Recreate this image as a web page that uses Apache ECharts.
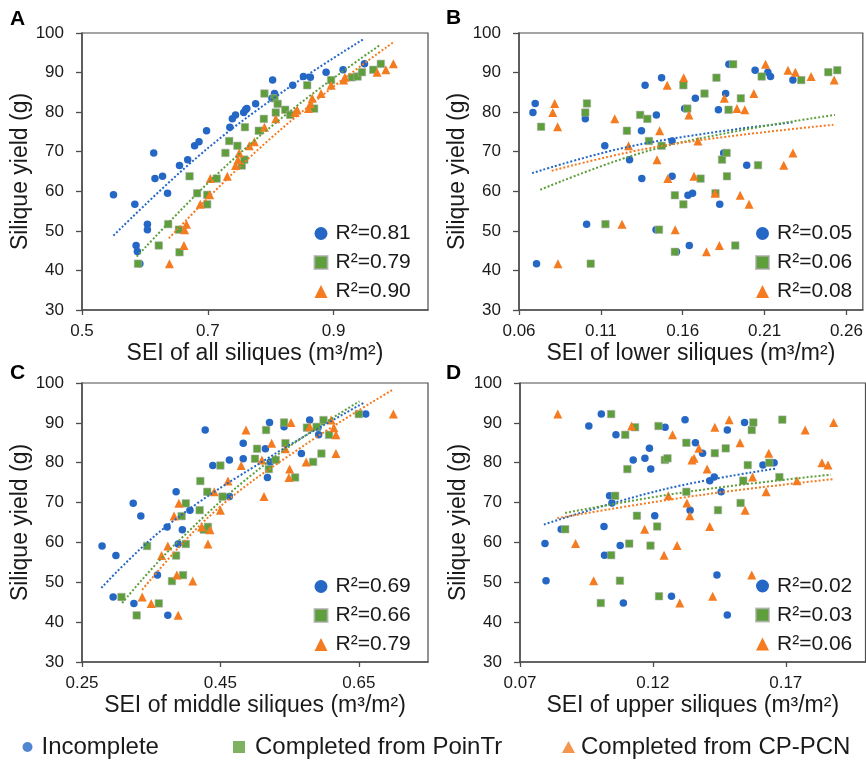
<!DOCTYPE html>
<html>
<head>
<meta charset="utf-8">
<title>SEI vs silique yield</title>
<script src="https://cdn.jsdelivr.net/npm/echarts@6.0.0/dist/echarts.min.js"></script>
<style>
  html, body { margin: 0; padding: 0; background: #fff; }
  #chart { width: 866px; height: 760px; }
</style>
</head>
<body>
<div id="chart"></div>
<script>
// ---- data: [SEI, silique yield] ----
// A: all siliques
const aIncomplete = [[0.550,59.1],[0.584,56.7],[0.586,46.3],[0.588,44.8],[0.592,41.7],[0.604,51.7],[0.604,50.3],[0.614,69.7],[0.616,63.2],[0.628,63.8],[0.636,59.5],[0.655,66.5],[0.668,68.0],[0.679,71.5],[0.686,72.5],[0.698,75.3],[0.735,76.2],[0.739,78.3],[0.744,79.3],[0.757,79.9],[0.760,80.6],[0.762,80.9],[0.776,82.1],[0.803,88.1],[0.802,83.5],[0.806,84.7],[0.835,86.8],[0.852,89.0],[0.863,88.8],[0.888,90.1],[0.915,90.7],[0.949,92.2]]
const aPoinTr = [[0.589,41.7],[0.622,46.3],[0.637,51.7],[0.655,44.6],[0.654,50.3],[0.671,63.8],[0.683,59.5],[0.699,59.1],[0.699,56.7],[0.714,63.2],[0.728,69.7],[0.734,72.7],[0.747,71.5],[0.754,66.5],[0.758,68.0],[0.759,76.2],[0.781,75.3],[0.789,78.3],[0.790,84.7],[0.806,83.5],[0.808,79.9],[0.811,82.1],[0.823,80.6],[0.831,79.3],[0.858,86.8],[0.869,80.9],[0.896,88.1],[0.929,88.8],[0.938,89.0],[0.945,90.1],[0.963,90.7],[0.975,92.2]]
const aCpPcn = [[0.639,41.7],[0.662,46.3],[0.663,50.3],[0.666,51.7],[0.688,56.7],[0.703,59.1],[0.704,63.2],[0.731,63.8],[0.744,66.5],[0.748,68.0],[0.750,69.7],[0.766,71.5],[0.774,72.5],[0.790,76.2],[0.808,78.3],[0.839,79.9],[0.842,80.6],[0.860,80.9],[0.863,82.1],[0.866,83.5],[0.880,84.7],[0.896,86.8],[0.916,88.1],[0.918,88.8],[0.969,90.1],[0.983,90.7],[0.995,92.2]]
const aTrendIncomplete = [[0.550,48.8],[0.683,68.6],[0.816,84.8],[0.948,98.5]]
const aTrendPoinTr = [[0.587,43.5],[0.716,64.5],[0.845,82.0],[0.974,97.0]]
const aTrendCpPcn = [[0.638,48.1],[0.758,67.3],[0.877,83.6],[0.997,97.9]]

// B: lower siliques
const bIncomplete = [[0.0685,79.9],[0.0699,82.2],[0.0707,41.7],[0.1005,78.3],[0.1013,51.7],[0.1124,71.5],[0.1275,68.0],[0.1348,75.3],[0.1350,63.2],[0.1370,86.8],[0.1439,79.3],[0.1437,50.3],[0.1471,88.7],[0.1535,72.7],[0.1535,63.8],[0.1562,44.7],[0.1612,80.9],[0.1632,59.0],[0.1660,59.5],[0.1640,46.3],[0.1677,83.5],[0.1818,80.6],[0.1826,56.7],[0.1850,69.7],[0.1862,84.7],[0.1882,92.1],[0.1991,66.6],[0.2042,90.6],[0.2120,90.1],[0.2136,89.0],[0.2273,88.1]]
const bPoinTr = [[0.0735,76.3],[0.1005,79.9],[0.1015,82.2],[0.1038,41.7],[0.1128,51.7],[0.1259,75.3],[0.1340,79.3],[0.1384,78.3],[0.1394,72.7],[0.1455,50.3],[0.1471,71.5],[0.1552,44.7],[0.1552,59.0],[0.1604,56.7],[0.1604,86.8],[0.1628,80.9],[0.1709,63.2],[0.1733,84.7],[0.1800,59.5],[0.1806,88.7],[0.1840,68.0],[0.1868,69.7],[0.1870,63.8],[0.1880,80.6],[0.1908,92.1],[0.1921,46.3],[0.1955,83.5],[0.2060,66.6],[0.2082,89.0],[0.2324,88.1],[0.2489,90.1],[0.2544,90.6]]
const bCpPcn = [[0.0806,79.9],[0.0818,82.2],[0.0836,76.3],[0.0838,41.7],[0.1185,78.3],[0.1229,51.7],[0.1269,71.5],[0.1443,68.0],[0.1459,75.3],[0.1505,86.8],[0.1509,63.2],[0.1554,50.3],[0.1606,88.7],[0.1638,79.3],[0.1669,63.8],[0.1693,72.7],[0.1745,44.7],[0.1798,59.5],[0.1824,46.3],[0.1854,83.5],[0.1931,80.9],[0.1951,59.0],[0.1979,80.6],[0.2005,56.7],[0.2034,84.7],[0.2106,92.1],[0.2217,66.6],[0.2243,90.6],[0.2273,69.7],[0.2288,90.1],[0.2384,89.0],[0.2525,88.1]]
const bTrendIncomplete = [[0.068,64.6],[0.121,70.7],[0.174,74.6],[0.227,77.4]]
const bTrendPoinTr = [[0.073,60.4],[0.133,69.5],[0.193,75.2],[0.253,79.3]]
const bTrendCpPcn = [[0.080,65.2],[0.137,70.7],[0.195,74.2],[0.252,76.8]]

// C: middle siliques
const cIncomplete = [[0.279,59.1],[0.299,56.7],[0.295,46.3],[0.324,69.8],[0.335,66.6],[0.325,44.7],[0.359,51.8],[0.373,63.9],[0.374,41.7],[0.386,72.7],[0.389,59.6],[0.395,63.2],[0.406,68.1],[0.428,88.2],[0.439,79.3],[0.463,71.5],[0.463,80.7],[0.483,84.9],[0.483,81.0],[0.515,83.5],[0.518,76.3],[0.521,90.1],[0.522,80.2],[0.542,89.0],[0.567,82.3],[0.579,90.7],[0.591,88.8],[0.592,87.0],[0.660,92.2]]
const cPoinTr = [[0.307,46.3],[0.329,41.7],[0.344,59.1],[0.361,44.7],[0.380,50.3],[0.386,56.7],[0.394,66.6],[0.396,51.8],[0.400,69.8],[0.400,59.6],[0.420,68.1],[0.421,75.4],[0.426,63.2],[0.432,63.9],[0.431,72.7],[0.450,79.3],[0.453,71.5],[0.500,81.0],[0.503,83.5],[0.516,88.2],[0.520,78.4],[0.530,80.7],[0.542,90.1],[0.544,84.9],[0.558,76.3],[0.575,88.8],[0.584,80.2],[0.589,89.0],[0.596,82.3],[0.599,90.7],[0.607,87.0],[0.650,92.2]]
const cCpPcn = [[0.337,46.3],[0.350,44.7],[0.365,56.7],[0.374,59.1],[0.383,66.6],[0.387,51.8],[0.389,41.7],[0.390,69.8],[0.410,50.3],[0.423,63.9],[0.432,59.6],[0.435,63.2],[0.441,72.7],[0.450,68.1],[0.461,75.4],[0.480,79.3],[0.487,88.2],[0.510,80.7],[0.513,71.5],[0.524,84.9],[0.544,83.5],[0.549,76.3],[0.550,78.4],[0.552,90.1],[0.574,80.2],[0.579,89.0],[0.610,90.7],[0.614,88.8],[0.617,87.0],[0.617,82.3],[0.700,92.2]]
const cTrendIncomplete = [[0.278,48.6],[0.373,64.2],[0.522,81.5],[0.659,95.2]]
const cTrendPoinTr = [[0.308,44.8],[0.385,59.6],[0.519,80.2],[0.651,95.4]]
const cTrendCpPcn = [[0.337,48.1],[0.438,67.2],[0.568,84.0],[0.699,98.3]]

// D: upper siliques
const dIncomplete = [[0.0794,59.7],[0.0798,50.4],[0.0855,63.3],[0.0959,89.2],[0.1006,92.2],[0.1016,64.0],[0.1018,56.8],[0.1037,71.7],[0.1046,69.9],[0.1061,87.0],[0.1077,59.2],[0.1089,44.8],[0.1126,80.7],[0.1170,81.1],[0.1187,83.6],[0.1192,78.4],[0.1207,66.7],[0.1246,88.9],[0.1270,46.5],[0.1321,90.8],[0.1340,68.1],[0.1360,85.0],[0.1387,82.4],[0.1414,75.5],[0.1431,76.4],[0.1441,51.8],[0.1457,72.7],[0.1480,88.2],[0.1480,41.8],[0.1545,90.1],[0.1614,79.4],[0.1656,80.0]]
const dPoinTr = [[0.0870,63.3],[0.1004,44.8],[0.1043,92.2],[0.1043,56.8],[0.1058,71.7],[0.1076,50.4],[0.1096,87.0],[0.1104,78.4],[0.1111,59.7],[0.1133,88.9],[0.1140,66.7],[0.1191,59.2],[0.1216,64.0],[0.1221,89.2],[0.1223,46.5],[0.1245,80.7],[0.1255,81.1],[0.1326,85.0],[0.1326,72.7],[0.1433,82.4],[0.1445,68.1],[0.1474,83.6],[0.1530,69.9],[0.1540,75.5],[0.1557,79.4],[0.1572,88.2],[0.1578,90.1],[0.1638,80.0],[0.1676,76.4],[0.1687,90.8]]
const dCpPcn = [[0.0842,92.2],[0.0909,59.7],[0.0977,50.4],[0.1120,89.2],[0.1169,63.3],[0.1242,56.8],[0.1258,71.7],[0.1274,87.0],[0.1291,59.2],[0.1301,44.8],[0.1328,69.9],[0.1339,66.7],[0.1347,80.7],[0.1355,81.1],[0.1373,83.6],[0.1404,78.4],[0.1414,64.0],[0.1425,46.5],[0.1433,88.9],[0.1487,90.8],[0.1528,85.0],[0.1547,68.1],[0.1572,51.8],[0.1575,76.4],[0.1626,72.7],[0.1636,82.4],[0.1742,75.5],[0.1773,88.2],[0.1836,80.0],[0.1859,79.4],[0.1880,90.1]]
const dTrendIncomplete = [[0.079,64.5],[0.124,73.3],[0.166,78.5]]
const dTrendPoinTr = [[0.087,67.4],[0.133,72.7],[0.187,77.0]]
const dTrendCpPcn = [[0.084,66.1],[0.137,71.8],[0.188,75.9]]

const r2A = ['R²=0.81', 'R²=0.79', 'R²=0.90']
const r2B = ['R²=0.05', 'R²=0.06', 'R²=0.08']
const r2C = ['R²=0.69', 'R²=0.66', 'R²=0.79']
const r2D = ['R²=0.02', 'R²=0.03', 'R²=0.06']

const xTicksA = [0.5, 0.7, 0.9]
const xTicksB = [0.06, 0.11, 0.16, 0.21, 0.26]
const xTicksC = [0.25, 0.45, 0.65]
const xTicksD = [0.07, 0.12, 0.17]

const groupNames = ['Incomplete', 'Completed from PoinTr', 'Completed from CP-PCN']

// ---- layout / style ----
const FONT = 'Liberation Sans, Arial, sans-serif'
const TEXT = '#1a1a1a'
const AXIS = '#4d4d4d'
const colors = ['#2467C5', '#5E9E3B', '#F47B20']
const symbols = ['circle', 'rect', 'triangle']
const symbolSizes = [7.5, 7.5, 9]

const panels = [
  { key: 'A', grid: { left: 82, top: 33, width: 346, height: 277 }, x: [0.5, 1.05], ticks: xTicksA, xName: 'SEI of all siliques (m³/m²)', r2: r2A, sets: [aIncomplete, aPoinTr, aCpPcn], trends: [aTrendIncomplete, aTrendPoinTr, aTrendCpPcn], legend: { left: 313.5, top: 223 }, letter: { left: 10, top: 9 } },
  { key: 'B', grid: { left: 519, top: 33, width: 346.5, height: 277 }, x: [0.06, 0.27], ticks: xTicksB, xName: 'SEI of lower siliques (m³/m²)', r2: r2B, sets: [bIncomplete, bPoinTr, bCpPcn], trends: [bTrendIncomplete, bTrendPoinTr, bTrendCpPcn], legend: { left: 755, top: 223 }, letter: { left: 446, top: 8 } },
  { key: 'C', grid: { left: 82, top: 383, width: 346, height: 279 }, x: [0.25, 0.75], ticks: xTicksC, xName: 'SEI of middle siliques (m³/m²)', r2: r2C, sets: [cIncomplete, cPoinTr, cCpPcn], trends: [cTrendIncomplete, cTrendPoinTr, cTrendCpPcn], legend: { left: 313.5, top: 576 }, letter: { left: 10, top: 363 } },
  { key: 'D', grid: { left: 520, top: 383, width: 345.5, height: 279 }, x: [0.07, 0.20], ticks: xTicksD, xName: 'SEI of upper siliques (m³/m²)', r2: r2D, sets: [dIncomplete, dPoinTr, dCpPcn], trends: [dTrendIncomplete, dTrendPoinTr, dTrendCpPcn], legend: { left: 755, top: 575.5 }, letter: { left: 446, top: 363 } }
]

const r2Label = {}
panels.forEach(p => p.r2.forEach((t, i) => { r2Label[p.key + i] = t }))

const grid = []
const xAxis = []
const yAxis = []
const series = []
const legend = []
const graphic = []

panels.forEach((p, pi) => {
  grid.push(Object.assign({ show: true, borderColor: AXIS, borderWidth: 1.2, backgroundColor: 'transparent' }, p.grid))
  xAxis.push({
    type: 'value',
    gridIndex: pi,
    min: p.x[0],
    max: p.x[1],
    splitLine: { show: false },
    axisLine: { show: true, onZero: false, lineStyle: { color: AXIS, width: 1.5 } },
    axisTick: { show: true, length: 5, customValues: p.ticks, lineStyle: { color: AXIS, width: 1.3 } },
    axisLabel: { customValues: p.ticks, fontSize: 17, fontFamily: FONT, color: TEXT, margin: 13 },
    name: p.xName,
    nameLocation: 'middle',
    nameGap: 32,
    nameTextStyle: { fontSize: 23, fontFamily: FONT, color: TEXT }
  })
  yAxis.push({
    type: 'value',
    gridIndex: pi,
    min: 30,
    max: 100,
    interval: 10,
    splitLine: { show: false },
    axisLine: { show: true, onZero: false, lineStyle: { color: AXIS, width: 1.5 } },
    axisTick: { show: true, length: 6, lineStyle: { color: AXIS, width: 1.3 } },
    axisLabel: { fontSize: 17, fontFamily: FONT, color: TEXT, margin: 18 },
    name: 'Silique yield (g)',
    nameLocation: 'middle',
    nameGap: 44,
    nameTextStyle: { fontSize: 23, fontFamily: FONT, color: TEXT }
  })
  p.sets.forEach((d, i) => {
    series.push({
      name: p.key + i,
      type: 'scatter',
      xAxisIndex: pi,
      yAxisIndex: pi,
      symbol: symbols[i],
      symbolSize: symbolSizes[i],
      z: 2 + i,
      itemStyle: i === 1
        ? { color: colors[i], opacity: 1, borderColor: 'rgba(170,170,170,0.7)', borderWidth: 0.8 }
        : { color: colors[i], opacity: 1 },
      data: d
    })
  })
  p.trends.forEach((d, i) => {
    series.push({
      type: 'line',
      xAxisIndex: pi,
      yAxisIndex: pi,
      smooth: 0.4,
      showSymbol: false,
      silent: true,
      z: 6,
      lineStyle: { color: colors[i], width: 2, type: [2, 2] },
      data: d
    })
  })
  legend.push({
    orient: 'vertical',
    left: p.legend.left,
    top: p.legend.top,
    padding: 0,
    itemGap: 8,
    itemWidth: 13,
    itemHeight: 13,
    selectedMode: false,
    formatter: n => r2Label[n],
    textStyle: { fontSize: 21, fontFamily: FONT, color: TEXT, padding: [0, 0, 0, 3] },
    data: [0, 1, 2].map(i => ({ name: p.key + i, icon: symbols[i] }))
  })
  graphic.push({
    type: 'text',
    left: p.letter.left,
    top: p.letter.top,
    style: { text: p.key, font: 'bold 21px ' + FONT, fill: '#000' }
  })
})

// bottom legend (one per group, placed individually)
const bottomLegend = [
  { left: 22.5, size: [10, 10], pad: 4 },
  { left: 233, size: [12, 12], pad: 5 },
  { left: 562, size: [13, 12], pad: 1 }
]
groupNames.forEach((g, i) => {
  series.push({
    name: g,
    type: 'scatter',
    xAxisIndex: 0,
    yAxisIndex: 0,
    symbol: symbols[i],
    itemStyle: { color: colors[i] },
    data: []
  })
  legend.push({
    left: bottomLegend[i].left,
    top: 735,
    padding: 0,
    itemWidth: bottomLegend[i].size[0],
    itemHeight: bottomLegend[i].size[1],
    selectedMode: false,
    textStyle: { fontSize: 24, fontFamily: FONT, color: TEXT, padding: [0, 0, 0, bottomLegend[i].pad] },
    data: [{ name: g, icon: symbols[i] }]
  })
})

const chart = echarts.init(document.getElementById('chart'), null, { renderer: 'canvas' })
chart.setOption({
  animation: false,
  backgroundColor: '#fff',
  textStyle: { fontFamily: FONT },
  grid: grid,
  xAxis: xAxis,
  yAxis: yAxis,
  legend: legend,
  graphic: graphic,
  series: series
})
</script>
</body>
</html>
